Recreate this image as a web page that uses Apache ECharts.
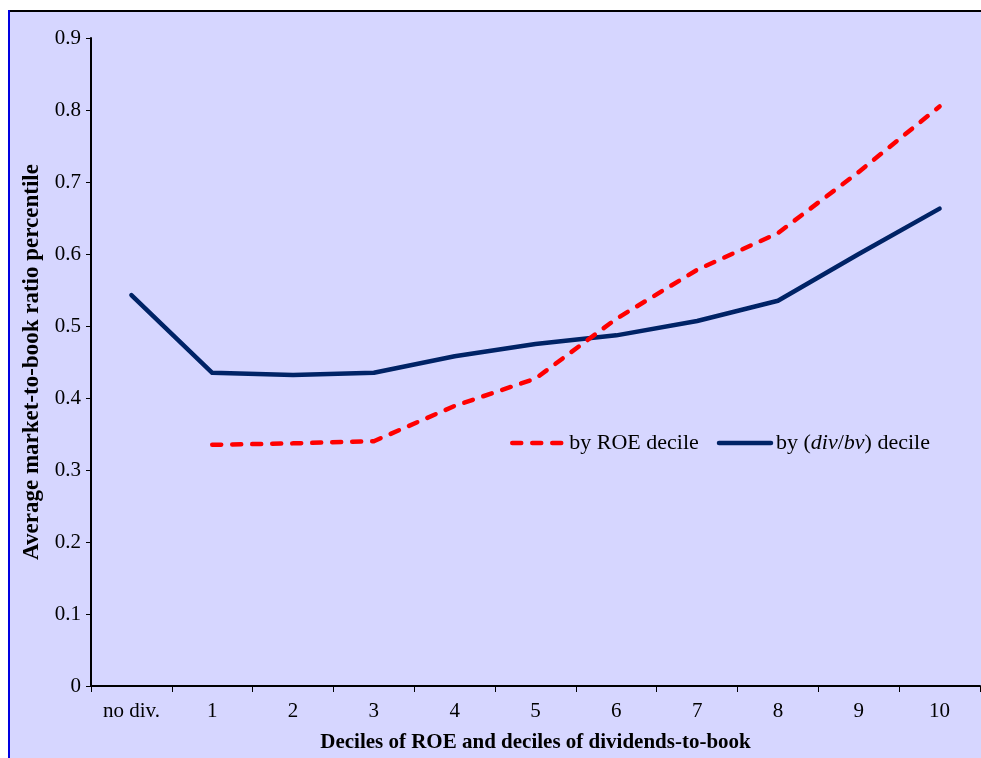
<!DOCTYPE html>
<html>
<head>
<meta charset="utf-8">
<script src="https://cdn.jsdelivr.net/npm/echarts@6/dist/echarts.min.js"></script>
<style>html,body{margin:0;padding:0;background:#fff}#c{width:981px;height:758px}</style>
</head>
<body>
<div id="c"></div>
<script>
var categories = ['no div.', '1', '2', '3', '4', '5', '6', '7', '8', '9', '10'];
var roeValues = [null, 0.335, 0.337, 0.340, 0.389, 0.427, 0.510, 0.578, 0.629, 0.714, 0.805];
var divValues = [0.543, 0.435, 0.432, 0.435, 0.458, 0.475, 0.487, 0.507, 0.535, 0.600, 0.663];
var yTicks = [0, 0.1, 0.2, 0.3, 0.4, 0.5, 0.6, 0.7, 0.8, 0.9];

var font = 'Liberation Serif';
var chart = echarts.init(document.getElementById('c'), null, {renderer: 'canvas'});
chart.setOption({
  backgroundColor: '#ffffff',
  animation: false,
  textStyle: {fontFamily: font},
  graphic: [
    {type: 'rect', z: -10, silent: true, shape: {x: 9, y: 11, width: 980, height: 760}, style: {fill: '#D6D6FF'}},
    {type: 'line', z: 10, silent: true, shape: {x1: 8, y1: 11, x2: 981, y2: 11}, style: {stroke: '#000', lineWidth: 2}},
    {type: 'line', z: 10, silent: true, shape: {x1: 9, y1: 10, x2: 9, y2: 758}, style: {stroke: '#0000E0', lineWidth: 2}}
  ],
  grid: {left: 91, right: 1, top: 38, bottom: 72, containLabel: false},
  legend: {
    left: 505, top: 427,
    itemWidth: 52, itemHeight: 14, itemGap: 18,
    itemStyle: {opacity: 0},
    lineStyle: {width: 4.5, cap: 'round'},
    textStyle: {
      fontFamily: font, fontSize: 22, color: '#000',
      rich: {i: {fontFamily: font, fontSize: 22, fontStyle: 'italic', color: '#000'}, n: {fontFamily: font, fontSize: 22, color: '#000'}}
    },
    formatter: function (name) {
      if (name === 'div') return '{n|by (}{i|div}{n|/}{i|bv}{n|) decile}';
      return 'by ROE decile';
    },
    data: [{name: 'ROE'}, {name: 'div'}]
  },
  xAxis: {
    type: 'category',
    data: categories,
    boundaryGap: true,
    name: 'Deciles of ROE and deciles of dividends-to-book',
    nameLocation: 'middle',
    nameGap: 46,
    nameTextStyle: {fontFamily: font, fontSize: 21, fontWeight: 'bold', color: '#000'},
    axisLine: {lineStyle: {color: '#000', width: 2}},
    axisTick: {show: true, inside: false, length: 6, alignWithLabel: false, lineStyle: {color: '#000', width: 1}},
    axisLabel: {fontFamily: font, fontSize: 21, color: '#000', margin: 15},
    splitLine: {show: false}
  },
  yAxis: {
    type: 'value',
    min: yTicks[0], max: yTicks[yTicks.length - 1], interval: 0.1,
    name: 'Average market-to-book ratio percentile',
    nameLocation: 'middle',
    nameGap: 46,
    nameTextStyle: {fontFamily: font, fontSize: 23, fontWeight: 'bold', color: '#000'},
    axisLine: {show: true, lineStyle: {color: '#000', width: 2}},
    axisTick: {show: true, inside: false, length: 5, lineStyle: {color: '#000', width: 1}},
    axisLabel: {fontFamily: font, fontSize: 21, color: '#000', margin: 10,
      formatter: function (v) { return Math.round(v * 10) === 0 ? '0' : (Math.round(v * 10) / 10).toString(); }},
    splitLine: {show: false}
  },
  series: [
    {
      name: 'ROE', type: 'line', data: roeValues, symbol: 'none', connectNulls: false,
      itemStyle: {color: '#FF0000'},
      lineStyle: {color: '#FF0000', width: 4.5, type: [9, 11], cap: 'round', join: 'round'},
      z: 3
    },
    {
      name: 'div', type: 'line', data: divValues, symbol: 'none',
      itemStyle: {color: '#002366'},
      lineStyle: {color: '#002366', width: 4.5, cap: 'round', join: 'round'},
      z: 2
    }
  ]
});
</script>
</body>
</html>
